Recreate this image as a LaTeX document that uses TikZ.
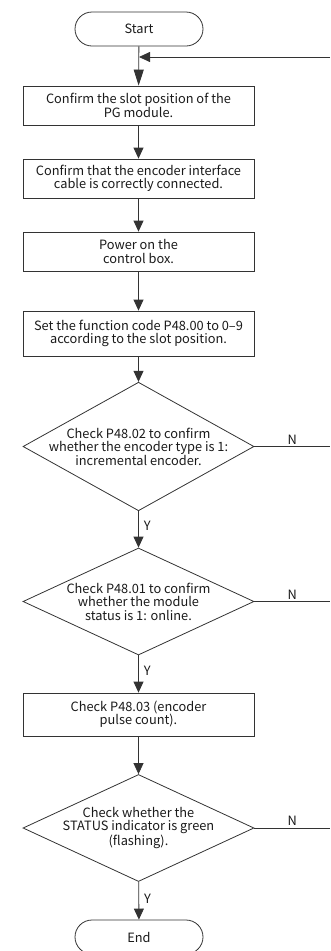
\documentclass[tikz,border=0pt]{standalone}
\usepackage{fontspec}
\setmainfont{Noto Sans CJK SC}
\usetikzlibrary{shapes.geometric,shapes.misc,arrows.meta}
\definecolor{ln}{HTML}{333333}
\definecolor{tx}{HTML}{1A1A1A}
\begin{document}
\begin{tikzpicture}[x=1pt,y=-1pt,
  font=\fontsize{12.8}{13.4}\selectfont,
  line width=0.8pt, draw=ln, text=tx,
  proc/.style={draw=ln, rectangle, minimum width=231pt, inner sep=0pt, align=center},
  term/.style={draw=ln, rounded rectangle, minimum width=128pt, minimum height=34pt, inner sep=0pt},
  dec/.style={draw=ln, diamond, minimum width=231pt, minimum height=107pt, inner sep=-22pt, align=center},
  arr/.style={draw=ln, -{Triangle[length=11pt,width=10pt]}},
  arrlong/.style={draw=ln, -{Triangle[length=16pt,width=10pt]}},
  lineN/.style={draw=ln},
  ylbl/.style={right, xshift=5pt, inner sep=0pt},
  nlbl/.style={above, yshift=2pt, inner sep=0pt}
]
\useasboundingbox (0,0) rectangle (330,951);
\node[term] (start) at (139,29) {Start};
\node[proc, minimum height=39pt] (b1) at (138.5,105.5) {Confirm the slot position of the\\PG module.};
\node[proc, minimum height=39pt] (b2) at (138.5,178.5) {Confirm that the encoder interface\\cable is correctly connected.};
\node[proc, minimum height=39pt] (b3) at (138.5,251.5) {Power on the\\control box.};
\node[proc, minimum height=45pt] (b4) at (138.5,333.5) {Set the function code P48.00 to 0--9\\according to the slot position.};
\node[dec] (d1) at (138.5,446.5) {Check P48.02 to confirm\\whether the encoder type is 1:\\incremental encoder.};
\node[dec] (d2) at (138.5,601.5) {Check P48.01 to confirm\\whether the module\\status is 1: online.};
\node[proc, minimum height=43pt] (b5) at (138.5,714.5) {Check P48.03 (encoder\\pulse count).};
\node[dec] (d3) at (138.5,828) {Check whether the\\STATUS indicator is green\\(flashing).};
\node[term] (end) at (139,937) {End};
\coordinate (ret) at (330,57);

\draw[arr] (ret) -- (start.south |- ret);
\draw[arrlong] (start) -- (b1);
\draw[arr] (b1) -- (b2);
\draw[arr] (b2) -- (b3);
\draw[arr] (b3) -- (b4);
\draw[arr] (b4) -- (d1);
\draw[arr] (d1) -- node[ylbl, pos=0.4] {Y} (d2);
\draw[arr] (d2) -- node[ylbl, pos=0.42] {Y} (b5);
\draw[arr] (b5) -- (d3);
\draw[arr] (d3) -- node[ylbl, pos=0.45] {Y} (end);
\draw[lineN] (d1.east) -- node[nlbl] {N} (d1.east -| ret);
\draw[lineN] (d2.east) -- node[nlbl] {N} (d2.east -| ret);
\draw[lineN] (d3.east) -- node[nlbl] {N} (d3.east -| ret);
\end{tikzpicture}
\end{document}
